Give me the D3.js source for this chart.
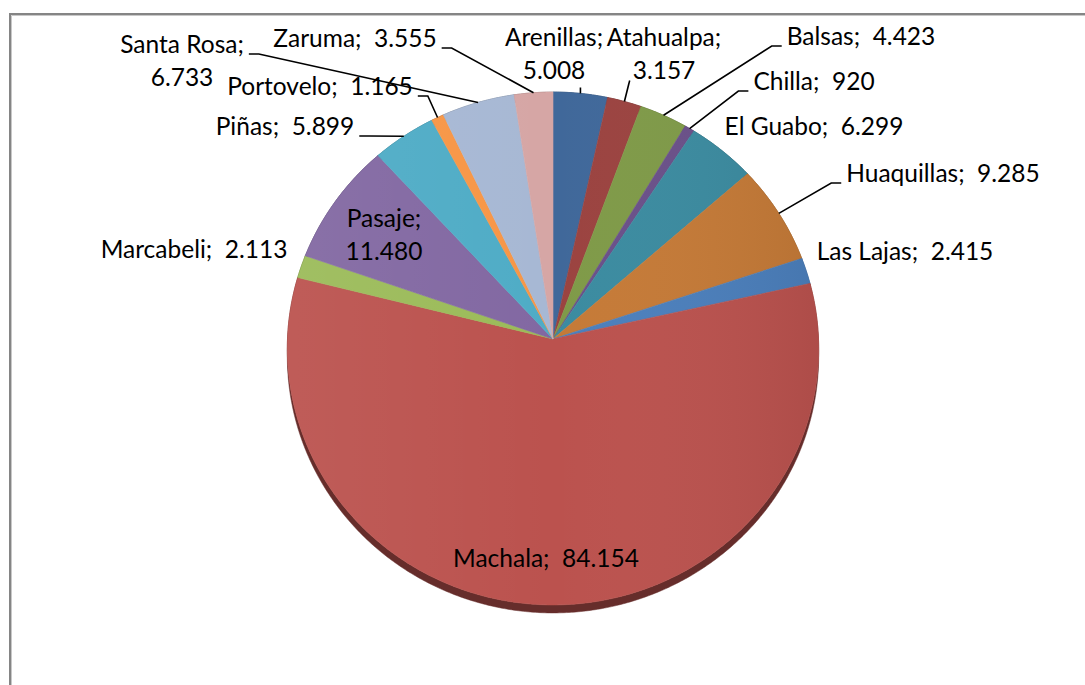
<!DOCTYPE html>
<html><head><meta charset="utf-8">
<script src="https://cdn.jsdelivr.net/npm/d3@7"></script>
<style>html,body{margin:0;padding:0;background:#fff;overflow:hidden}</style>
</head><body>
<svg id="chart" width="1085" height="685"></svg>
<script>
// ---- data ----
const categories = ["Arenillas","Atahualpa","Balsas","Chilla","El Guabo","Huaquillas","Las Lajas","Machala","Marcabeli","Pasaje","Piñas","Portovelo","Santa Rosa","Zaruma"];
const values = [5008,3157,4423,920,6299,9285,2415,84154,2113,11480,5899,1165,6733,3555];

// ---- styles ----
const colors = ["#40689A","#9B4340","#7F9A48","#6A5089","#3B8BA0","#C57A37","#4B7FBC","#BB524E","#9BBB59","#8268A2","#4FACC6","#F79646","#A7B8D4","#D6A6A5"];

// ---- label layout (text centre x, first baseline y) ----
const labelLayout = {
  "Arenillas":  {x:554, y:46, wrap:true, leader:{type:"bottom", dy:9}},
  "Atahualpa":  {x:664, y:46, wrap:true, leader:{type:"bottom", dy:2}},
  "Balsas":     {x:861, y:45, leader:{type:"left"}},
  "Chilla":     {x:814, y:90, leader:{type:"left"}},
  "El Guabo":   {x:814, y:135},
  "Huaquillas": {x:943, y:182, leader:{type:"left"}},
  "Las Lajas":  {x:905, y:260},
  "Machala":    {x:546, y:567},
  "Marcabeli":  {x:194, y:258},
  "Pasaje":     {x:384, y:227, wrap:true},
  "Piñas":      {x:285, y:135, leader:{type:"right"}},
  "Portovelo":  {x:320, y:95, leader:{type:"right"}},
  "Santa Rosa": {x:182, y:53, wrap:true, leader:{type:"right"}},
  "Zaruma":     {x:355, y:47, leader:{type:"right"}}
};

const data = categories.map((c,i)=>({name:c, value:values[i], color:colors[i]}));
const locale = d3.formatLocale({decimal:",", thousands:".", grouping:[3], currency:["$",""]});
const fmt = locale.format(",d");

const svg = d3.select("#chart");
const defs = svg.append("defs");

// frame
svg.append("path").attr("d","M10,700 V14 H1100").attr("fill","none").attr("stroke","#858585").attr("stroke-width",2);
svg.append("path").attr("d","M11.5,700 V15.5 H1100").attr("fill","none").attr("stroke","#c8c8c8").attr("stroke-width",1);

// perspective pie geometry
const cx = 553, cy = 339, A = 265.5, B = 256.1, k = 0.037, thick = 8;
function proj(theta, r){
  const s = Math.sin(theta), c = Math.cos(theta);
  const w = 1 + k*r*c;
  return [cx + A*r*s/w, cy - B*r*c/w];
}
function arcPts(a0, a1){
  const n = Math.max(2, Math.ceil((a1-a0)/(Math.PI/360)));
  return d3.range(n+1).map(i => proj(a0 + (a1-a0)*i/n, 1));
}

const pie = d3.pie().sort(null).value(d=>d.value).startAngle(0).endAngle(2*Math.PI);
const arcs = pie(data);
const line = d3.line();

// side (thickness)
const gSide = svg.append("g");
arcs.forEach(a=>{
  const top = arcPts(a.startAngle, a.endAngle);
  const bot = top.map(p=>[p[0], p[1]+thick]).reverse();
  gSide.append("path").attr("d", line(top.concat(bot))+"Z")
    .attr("fill", d3.color(a.data.color).darker(1.7))
    .attr("stroke", d3.color(a.data.color).darker(1.7)).attr("stroke-width",0.5);
});

// top faces
const gTop = svg.append("g");
arcs.forEach(a=>{
  const pts = [[cx,cy]].concat(arcPts(a.startAngle, a.endAngle));
  gTop.append("path").attr("d", line(pts)+"Z")
    .attr("fill", a.data.color).attr("stroke", a.data.color).attr("stroke-width",0.6)
    .attr("stroke-linejoin","round");
});

// soft lighting overlay
const grad = defs.append("linearGradient").attr("id","shade").attr("x1","0").attr("x2","1").attr("y1","0").attr("y2","0");
grad.append("stop").attr("offset","0").attr("stop-color","#fff").attr("stop-opacity",0.06);
grad.append("stop").attr("offset","0.5").attr("stop-color","#fff").attr("stop-opacity",0);
grad.append("stop").attr("offset","1").attr("stop-color","#000").attr("stop-opacity",0.07);
svg.append("path").attr("d", line(arcPts(0, 2*Math.PI))+"Z").attr("fill","url(#shade)");

// labels
const gLab = svg.append("g").attr("font-family","Lato, 'Open Sans', sans-serif").attr("font-size",24.5).attr("fill","#000");
const gLead = svg.append("g").attr("fill","none").attr("stroke","#000").attr("stroke-width",1.6);
const lineH = 32.5;

arcs.forEach(a=>{
  const L = labelLayout[a.data.name];
  const lines = L.wrap ? [a.data.name+";", fmt(a.data.value)] : [a.data.name+";\u00A0 "+fmt(a.data.value)];
  const t = gLab.append("text").attr("text-anchor","middle");
  const tsp = lines.map((s,i)=> t.append("tspan").attr("x", L.x).attr("y", L.y + i*lineH).text(s));
  if(!L.leader) return;
  const mid = (a.startAngle + a.endAngle)/2;
  const pe = proj(mid, 1);
  const ld = L.leader;
  let pts;
  if(ld.type === "right" || ld.type === "left"){
    const w = tsp[0].node().getComputedTextLength();
    const y = L.y + 1;
    const dir = ld.type === "right" ? 1 : -1;
    const sx = L.x + dir*(w/2 + 5);
    pts = [[sx, y], [sx + dir*10, y], pe];
  } else {
    const last = tsp[tsp.length-1];
    const w = last.node().getComputedTextLength();
    const y = L.y + (lines.length-1)*lineH + ld.dy;
    const sx = Math.max(L.x - w/2 - 3, Math.min(L.x + w/2, pe[0]));
    pts = [[sx, y], pe];
  }
  gLead.append("path").attr("d", line(pts));
});
</script>
</body></html>
